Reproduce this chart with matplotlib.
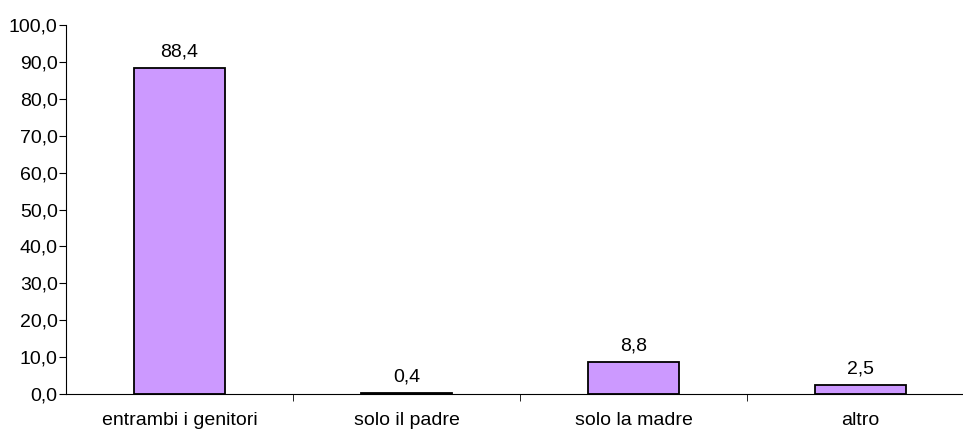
import matplotlib.pyplot as plt
import numpy as np

categories = ['entrambi i genitori', 'solo il padre', 'solo la madre', 'altro']
values = [88.4, 0.4, 8.8, 2.5]
yticks = [0, 10, 20, 30, 40, 50, 60, 70, 80, 90, 100]

plt.rcParams['font.family'] = ['Liberation Sans', 'DejaVu Sans']
plt.rcParams['font.size'] = 14

fig = plt.figure(figsize=(9.63, 4.32), dpi=100)
ax = fig.add_axes([66/963, 38/432, 908/963, 369/432])

x = np.arange(len(categories))
bars = ax.bar(x, values, width=0.405, color='#CC99FF', edgecolor='black', linewidth=1.3)

for b, v in zip(bars, values):
    ax.annotate(f'{v:.1f}'.replace('.', ','), (b.get_x() + b.get_width()/2, v),
                xytext=(0, 5), textcoords='offset points', ha='center', va='bottom')

ax.set_xlim(-0.5, len(categories) - 0.5)
ax.set_ylim(0, 100)
ax.set_yticks(yticks)
ax.set_yticklabels([f'{t:.1f}'.replace('.', ',') for t in yticks])
ax.set_xticks(x)
ax.set_xticklabels(categories)
ax.set_xticks(np.arange(0.5, len(categories) - 0.5), minor=True)
ax.tick_params(axis='x', which='major', length=0, pad=13)
ax.tick_params(axis='x', which='minor', length=5, direction='out')
ax.tick_params(axis='y', length=5, direction='out', pad=1)

for s in ['top', 'right']:
    ax.spines[s].set_visible(False)
ax.spines['left'].set_linewidth(0.8)
ax.spines['bottom'].set_linewidth(0.8)

fig.savefig('out.png', dpi=100)
